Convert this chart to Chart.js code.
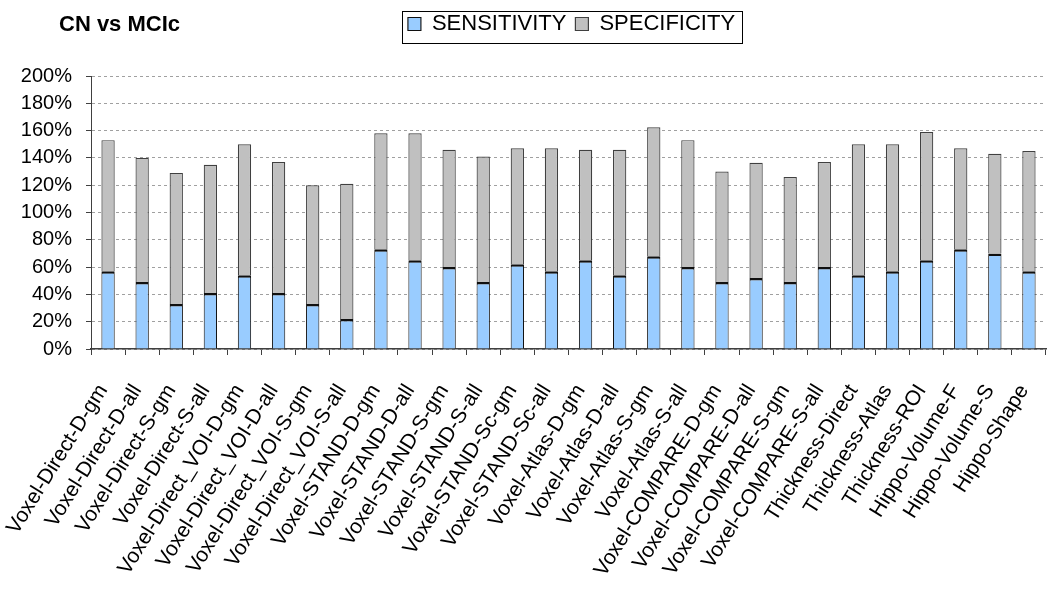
<!DOCTYPE html>
<html><head><meta charset="utf-8">
<script src="https://cdn.jsdelivr.net/npm/chart.js@4"></script>
<style>
html,body{margin:0;padding:0;background:#fff;}
#wrap{position:relative;width:1048px;height:589px;overflow:hidden;}
#title{position:absolute;left:59px;top:12px;font:bold 22px "Liberation Sans",Arial,sans-serif;line-height:24px;color:#000;white-space:nowrap;}
canvas{position:absolute;left:0;top:0;}
</style></head><body>
<div id="wrap"><canvas id="c" width="1048" height="589"></canvas><div id="title">CN vs MCIc</div></div>
<script>
const categories = [
  "Voxel-Direct-D-gm","Voxel-Direct-D-all","Voxel-Direct-S-gm","Voxel-Direct-S-all",
  "Voxel-Direct_VOI-D-gm","Voxel-Direct_VOI-D-all","Voxel-Direct_VOI-S-gm","Voxel-Direct_VOI-S-all",
  "Voxel-STAND-D-gm","Voxel-STAND-D-all","Voxel-STAND-S-gm","Voxel-STAND-S-all",
  "Voxel-STAND-Sc-gm","Voxel-STAND-Sc-all","Voxel-Atlas-D-gm","Voxel-Atlas-D-all",
  "Voxel-Atlas-S-gm","Voxel-Atlas-S-all","Voxel-COMPARE-D-gm","Voxel-COMPARE-D-all",
  "Voxel-COMPARE-S-gm","Voxel-COMPARE-S-all","Thickness-Direct","Thickness-Atlas",
  "Thickness-ROI","Hippo-Volume-F","Hippo-Volume-S","Hippo-Shape"
];
const sensitivity = [57,49,33,41,54,41,33,22,73,65,60,49,62,57,65,54,68,60,49,52,49,60,54,57,65,73,70,57];
const specificity = [96,91,96,94,96,96,87,99,85,93,86,92,85,90,81,92,94.5,93,81,84.5,77,77,96,93,94,74,73,88];
const yTickValues = [0,20,40,60,80,100,120,140,160,180,200];

const FONT = '"Liberation Sans", Arial, sans-serif';

const legendFrame = {
  id: 'legendFrame',
  beforeInit(chart) {
    const lg = chart.legend;
    if (lg) {
      const origFit = lg.fit;
      lg.fit = function () { origFit.call(this); this.height = 72; };
    }
  },
  afterLayout(chart) {
    const lg = chart.legend, ca = chart.chartArea;
    const shift = (ca.left + ca.right) / 2 - (lg.left + lg.right) / 2 + 3;
    lg.left += shift; lg.right += shift;
  },
  afterDraw(chart) {
    const hb = chart.legend.legendHitBoxes;
    if (!hb || !hb.length) return;
    const first = hb[0], last = hb[hb.length - 1];
    const ctx = chart.ctx;
    ctx.save();
    ctx.strokeStyle = '#000';
    ctx.lineWidth = 1;
    const x1 = Math.round(first.left - 6) + 0.5;
    const x2 = Math.round(last.left + last.width + 7) + 0.5;
    ctx.strokeRect(x1, 11.5, x2 - x1, 32);
    ctx.restore();
  }
};

new Chart(document.getElementById('c'), {
  type: 'bar',
  data: {
    labels: categories,
    datasets: [
      { label: 'SENSITIVITY', data: sensitivity, backgroundColor: '#99CCFF',
        borderColor: '#101010', borderWidth: {top: 2.5, left: 1, right: 1, bottom: 0}, borderSkipped: false },
      { label: 'SPECIFICITY', data: specificity, backgroundColor: '#C0C0C0',
        borderColor: '#404040', borderWidth: 1.2 }
    ]
  },
  options: {
    responsive: false,
    animation: false,
    devicePixelRatio: 1,
    layout: { padding: { top: 4, right: 2, left: 0, bottom: 0 } },
    datasets: { bar: { barPercentage: 0.39, categoryPercentage: 1.0 } },
    plugins: {
      title: { display: false },
      tooltip: { enabled: false },
      legend: {
        position: 'top',
        align: 'center',
        labels: { font: { family: FONT, size: 22 }, color: '#000', boxWidth: 13, boxHeight: 13, padding: 9 }
      }
    },
    scales: {
      x: {
        stacked: true,
        offset: true,
        grid: { offset: true, drawOnChartArea: false, drawTicks: true, tickLength: 6, color: '#404040', tickColor: '#404040' },
        border: { display: true, color: '#404040', width: 1.5 },
        ticks: { autoSkip: false, minRotation: 58, maxRotation: 58, padding: 25, labelOffset: -5,
                 font: { family: FONT, size: 21 }, color: '#000' },
        afterFit(scale) { scale.height = 240; scale.paddingLeft = 0; scale.paddingRight = 0; }
      },
      y: {
        stacked: true,
        min: 0, max: 200,
        afterBuildTicks(scale) { scale.ticks = yTickValues.map(v => ({ value: v })); },
        grid: { color: '#a0a0a0', lineWidth: 1, drawTicks: true, tickLength: 5, tickColor: '#404040', tickBorderDash: [] },
        border: { display: true, color: '#404040', width: 1, dash: [3, 3] },
        ticks: { padding: 14, font: { family: FONT, size: 20 }, color: '#000', callback: v => v + '%' },
        afterFit(scale) { scale.width = 91; }
      }
    }
  },
  plugins: [legendFrame]
});
</script>
</body></html>
